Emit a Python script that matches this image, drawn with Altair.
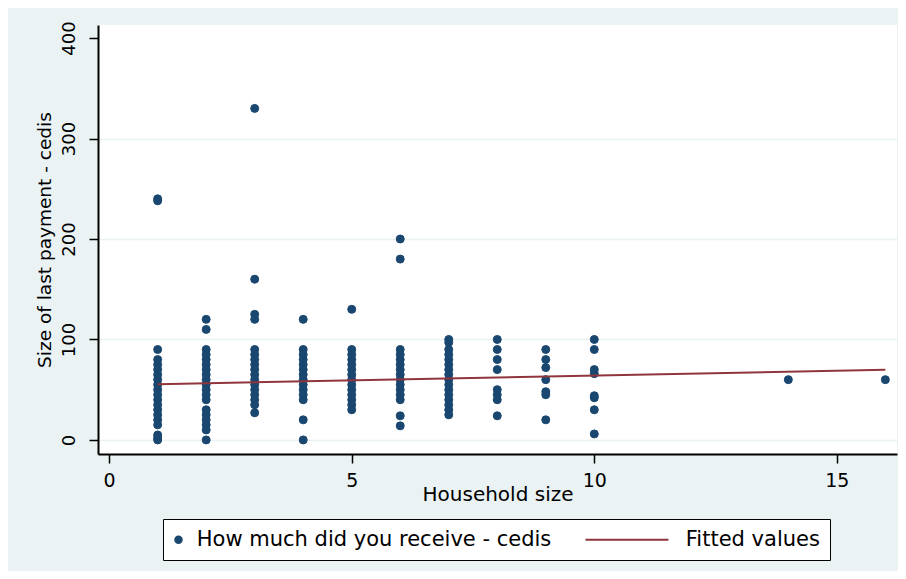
import altair as alt
import pandas as pd

# ---- data ----
series_pts = "How much did you receive - cedis"
series_fit = "Fitted values"

pay_hh1 = [240, 238, 90, 80, 75, 70, 65, 60, 55, 50, 45, 40, 35, 30, 25, 20, 15, 5, 2, 0]
pay_hh2 = [120, 110, 90, 85, 80, 75, 70, 65, 60, 55, 50, 45, 40, 30, 25, 20, 15, 10, 0]
pay_hh3 = [330, 160, 125, 120, 90, 85, 80, 75, 70, 65, 60, 55, 50, 45, 40, 35, 27]
pay_hh4 = [120, 90, 85, 80, 75, 70, 65, 60, 55, 50, 45, 40, 20, 0]
pay_hh5 = [130, 90, 85, 80, 75, 70, 65, 60, 55, 50, 45, 40, 35, 30]
pay_hh6 = [200, 180, 90, 85, 80, 75, 70, 65, 60, 55, 50, 45, 40, 24, 14]
pay_hh7 = [100, 97, 90, 85, 80, 75, 70, 65, 60, 55, 50, 45, 40, 35, 30, 25]
pay_hh8 = [100, 90, 80, 70, 50, 45, 40, 24]
pay_hh9 = [90, 80, 72, 60, 48, 45, 20]
pay_hh10 = [100, 90, 70, 66, 44, 42, 30, 6]
pay_hh14 = [60]
pay_hh16 = [60]

hh_sizes = [1, 2, 3, 4, 5, 6, 7, 8, 9, 10, 14, 16]
pay_lists = [pay_hh1, pay_hh2, pay_hh3, pay_hh4, pay_hh5, pay_hh6, pay_hh7,
             pay_hh8, pay_hh9, pay_hh10, pay_hh14, pay_hh16]

fit_x = [1, 16]
fit_y = [55.5, 69.8]

x_ticks = [0, 5, 10, 15]
y_ticks = [0, 100, 200, 300, 400]

rows = []
for h, lst in zip(hh_sizes, pay_lists):
    for v in lst:
        rows.append({"hh": h, "pay": v, "series": series_pts})
df_pts = pd.DataFrame(rows)
df_fit = pd.DataFrame({"hh": fit_x, "pay": fit_y, "series": series_fit})

# ---- styles ----
NAVY = "#1a476f"
MAROON = "#90353b"
BG = "#eaf2f3"
FONT = "DejaVu Sans"
LINE_SYMBOL = "M-25.3,0H0.3"

xscale = alt.Scale(domain=[-0.23, 16.24], nice=False, zero=False)
yscale = alt.Scale(domain=[-14, 413], nice=False, zero=False)
cscale = alt.Scale(domain=[series_pts, series_fit], range=[NAVY, MAROON])
sscale = alt.Scale(domain=[series_pts, series_fit], range=["circle", LINE_SYMBOL])

x_axis = alt.Axis(
    values=x_ticks, grid=False, title="Household size",
    labelFont=FONT, labelFontSize=19, labelColor="black", labelPadding=8,
    labelFlush=False, tickSize=9, tickWidth=1.5, tickColor="black",
    domainColor="black", domainWidth=2,
    titleFont=FONT, titleFontSize=20, titleFontWeight="normal", titleColor="black",
    titleBaseline="alphabetic", titleX=399.5, titleY=46,
)
y_axis = alt.Axis(
    values=y_ticks, grid=True, gridColor=BG, gridWidth=1.5,
    gridOpacity={"condition": {"test": "datum.value == 400", "value": 0}, "value": 1},
    title="Size of last payment - cedis",
    labelFont=FONT, labelFontSize=18, labelColor="black", labelAngle=270,
    labelAlign="center", labelBaseline="alphabetic", labelPadding=15,
    labelFlush=False, tickSize=9, tickWidth=1.5, tickColor="black",
    domainColor="black", domainWidth=2,
    titleFont=FONT, titleFontSize=18.5, titleFontWeight="normal", titleColor="black",
    titleAngle=270, titleAlign="center", titleBaseline="alphabetic",
    titleX=-48, titleY=214.5,
)

def make_legend():
    return alt.Legend(
        title=None, orient="none", legendX=65, legendY=494, direction="horizontal",
        strokeColor="black", fillColor="white", padding=10,
        symbolSize=42, symbolStrokeWidth=2, symbolOffset=-5,
        labelFont=FONT, labelFontSize=21, labelColor="black", labelOffset=7.8,
        labelLimit=0, columnPadding=29,
    )

points = alt.Chart(df_pts).mark_point(filled=False, size=64, strokeWidth=1, opacity=1).encode(
    x=alt.X("hh:Q", scale=xscale, axis=x_axis),
    y=alt.Y("pay:Q", scale=yscale, axis=y_axis),
    color=alt.Color("series:N", scale=cscale, legend=make_legend()),
    fill=alt.Fill("series:N", scale=cscale, legend=make_legend()),
    shape=alt.Shape("series:N", scale=sscale, legend=make_legend()),
)

fit = alt.Chart(df_fit).mark_line(color=MAROON, strokeWidth=2).encode(
    x=alt.X("hh:Q", scale=xscale),
    y=alt.Y("pay:Q", scale=yscale),
)

chart = alt.layer(points, fit).properties(
    width=799, height=429,
    autosize=alt.AutoSizeParams(type="none"),
    padding={"left": 90, "top": 17, "right": 1, "bottom": 117},
    background=BG,
).configure_view(fill="white", stroke=None)

chart.save("out.html", embed_options={"renderer": "svg", "actions": False})
